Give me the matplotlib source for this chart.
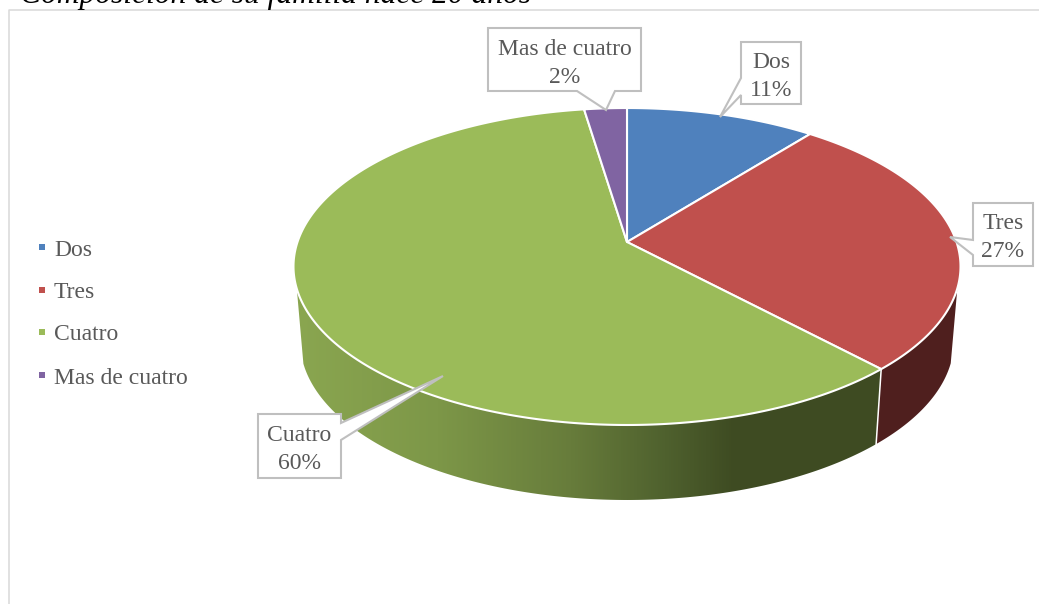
#! Python3
# Composicion de su familia - perspective 3D pie, drawn by hand since matplotlib has no such pie
import numpy as np
import matplotlib
matplotlib.use('Agg')
import matplotlib.pyplot as plt
from matplotlib.patches import Polygon
from matplotlib.colors import LinearSegmentedColormap

categories = ['Dos', 'Tres', 'Cuatro', 'Mas de cuatro']
values = [10.7, 27.3, 59.6, 2.4]
percent_labels = ['11%', '27%', '60%', '2%']
colors = ['#4f81bd', '#c0504d', '#9bbb59', '#8064a2']
title = 'Composición de su familia hace 20 años'

plt.rcParams['font.family'] = ['Liberation Serif', 'DejaVu Serif']

# work in picture pixels
fig = plt.figure(figsize=(10.39, 6.04), dpi=100)
ax = fig.add_axes([0, 0, 1, 1])
ax.axis('off')

cx, cy = 627, 242     # apex of the pie
p = 0.1546            # perspective strength
A, B = 329.5, 154.7
depth = 75
shrink = 0.98         # bottom face is a bit narrower
side_top = 288        # the side wall starts here


def rim(theta, lower=False):
    # theta in radians, clockwise from 12 o'clock
    u, v = np.sin(theta), np.cos(theta)
    d = 1 + p * v
    x = A * u / d
    y = cy - B * v / d
    if lower:
        return cx + x * shrink, y + depth
    return cx + x, y


def side_outline(i):
    # outline of the visible side wall of slice i
    t = np.linspace(fractions[i], fractions[i + 1], 600)
    xt, yt = rim(t)
    xb, yb = rim(t, lower=True)
    keep = yt >= side_top
    return np.column_stack([np.r_[xt[keep], xb[keep][::-1]],
                            np.r_[yt[keep], yb[keep][::-1]]])


fractions = np.cumsum([0] + values) / sum(values) * 2 * np.pi

# side wall of Tres is flat dark
ax.add_patch(Polygon(side_outline(1), closed=True, facecolor='#4f1f1e', edgecolor='none', zorder=2))

# side wall of Cuatro has a left to right gradient
side_cmap = LinearSegmentedColormap.from_list('side', [
    (0.0, '#8aa650'), (0.24, '#7d9748'), (0.47, '#677c3b'),
    (0.63, '#4f612e'), (0.75, '#3e4b22'), (1.0, '#3f4c23')])
gradient = np.linspace(0, 1, 512).reshape(1, -1)
img = ax.imshow(gradient, cmap=side_cmap, extent=(296, 882, 520, 260), aspect='auto', zorder=2)
clip = Polygon(side_outline(2), closed=True, transform=ax.transData)
img.set_clip_path(clip)

ax.set_xlim(0, 1039)
ax.set_ylim(604, 0)

# white seam between the two side walls
sx, sy = rim(fractions[2])
sx2, sy2 = rim(fractions[2], lower=True)
ax.plot([sx, sx2], [sy, sy2], color='white', lw=1.1, zorder=3)

# top face
for i in range(len(values)):
    t = np.linspace(fractions[i], fractions[i + 1], 300)
    xt, yt = rim(t)
    pts = np.column_stack([np.r_[cx, xt], np.r_[cy, yt]])
    ax.add_patch(Polygon(pts, closed=True, facecolor=colors[i], edgecolor='white',
                         lw=1.5, joinstyle='round', zorder=4))

# callouts in category order, outline goes round the box and out to the tip
callouts = [
    ([(741, 42), (801, 42), (801, 104), (741, 104), (741, 95), (720, 117), (741, 78)], 771, 68),
    ([(973, 203), (1033, 203), (1033, 266), (973, 266), (973, 255), (950, 237), (973, 240)], 1003, 229),
    ([(258, 414), (341, 414), (341, 423), (443, 376), (341, 440), (341, 478), (258, 478)], 299.5, 441),
    ([(488, 28), (641, 28), (641, 91), (615, 91), (606, 110), (577, 91), (488, 91)], 564.5, 55),
]
for i, (outline, tx, base) in enumerate(callouts):
    ax.add_patch(Polygon(outline, closed=True, facecolor='white', edgecolor='#bfbfbf',
                         lw=1.5, zorder=5))
    ax.text(tx, base, categories[i], ha='center', va='baseline', fontsize=17, color='#595959', zorder=6)
    ax.text(tx, base + 28, percent_labels[i], ha='center', va='baseline', fontsize=17, color='#595959', zorder=6)

# legend
legend_y = [247, 290, 332, 375]
for i in range(len(categories)):
    ax.scatter([42], [legend_y[i]], s=24, marker='s', color=colors[i], linewidths=0, zorder=5)
    ax.text(54, legend_y[i] + 8.5, categories[i], ha='left', va='baseline', fontsize=17, color='#595959')

# chart frame and the title cut by the top of the picture
ax.plot([8.5, 8.5, 1039], [604, 10, 10], color='#d9d9d9', lw=1.1, zorder=1)
ax.text(20, 3, title, ha='left', va='baseline', fontsize=22.7, style='italic', color='black')

fig.savefig('out.png', dpi=100)
